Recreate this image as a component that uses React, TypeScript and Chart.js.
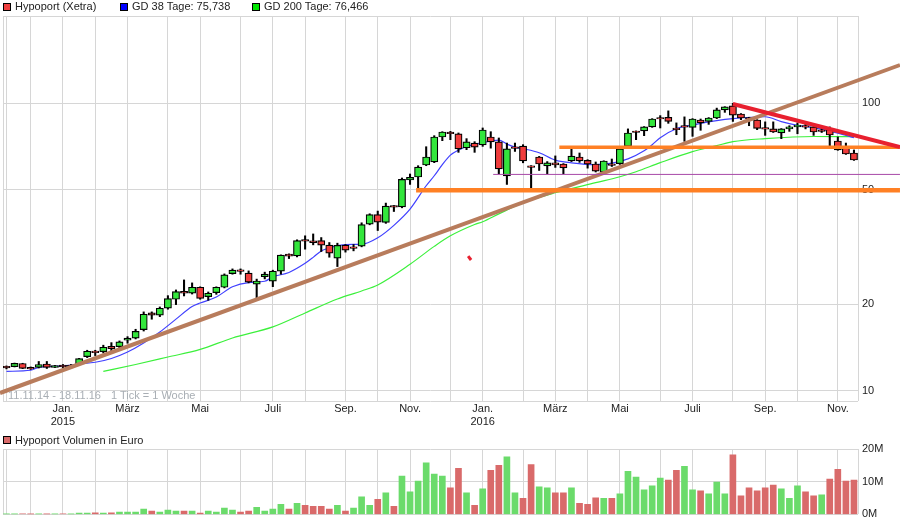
import { useEffect, useRef } from 'react';
import { Chart, registerables } from 'chart.js';

Chart.register(...registerables);

const opens = [
  12.19, 12.14, 12.46, 12.07, 12.07, 12.41, 12.07, 12.29, 12.29, 12.34, 13.16, 13.75, 13.69, 14.3, 14.25, 15.0, 15.25, 16.33,
  18.68, 18.33, 19.38, 20.82, 22.2, 21.85, 22.92, 21.26, 21.95, 22.92, 25.56, 26.35, 25.65, 23.48, 24.96, 24.05, 26.05, 29.86,
  29.45, 33.52, 33.2, 33.3, 32.1, 28.93, 32.1, 31.68, 31.85, 37.97, 41.0, 38.5, 44.0, 43.54, 54.02, 55.33, 60.9, 62.4, 76.2,
  79.2, 78.1, 69.9, 72.6, 71.5, 76.2, 73.3, 55.8, 70.4, 70.9, 60.5, 64.95, 60.5, 62.0, 61.4, 62.9, 64.95, 63.2, 61.4, 57.5,
  61.45, 61.55, 70.7, 79.9, 80.0, 82.6, 89.05, 89.2, 81.8, 83.5, 82.3, 87.3, 86.3, 88.7, 94.6, 97.7, 91.6, 89.05, 87.3, 82.2,
  81.3, 78.7, 81.3, 82.6, 83.5, 82.6, 80.65, 81.0, 73.8, 69.8, 67.05,
];
const highs = [
  12.22, 12.5, 12.48, 12.12, 12.66, 12.66, 12.27, 12.36, 12.36, 12.98, 13.85, 13.85, 14.42, 14.72, 14.92, 15.44, 16.38, 18.82,
  18.82, 19.58, 21.43, 22.43, 24.3, 23.73, 23.0, 22.07, 23.0, 25.5, 26.54, 26.54, 26.12, 24.46, 25.86, 26.27, 29.69, 29.93,
  33.49, 34.58, 35.1, 34.1, 32.77, 32.6, 32.25, 32.25, 38.37, 41.24, 42.14, 44.92, 44.05, 54.9, 56.68, 60.57, 70.5, 77.0, 79.5,
  79.7, 78.7, 75.2, 73.4, 81.9, 79.5, 75.6, 72.6, 72.6, 71.66, 60.6, 65.25, 62.6, 65.5, 61.6, 69.3, 67.05, 63.55, 62.4, 63.0,
  63.9, 69.4, 81.3, 80.0, 82.8, 88.25, 90.4, 93.9, 85.3, 89.5, 88.25, 88.0, 89.0, 96.0, 97.1, 99.7, 91.9, 89.2, 87.55, 86.0,
  86.0, 81.5, 83.4, 85.3, 84.6, 82.8, 81.9, 82.6, 76.2, 72.6, 68.7,
];
const lows = [
  11.93, 12.12, 11.95, 11.88, 12.02, 11.97, 12.06, 12.02, 12.02, 12.32, 13.06, 13.27, 13.55, 13.69, 14.14, 14.65, 15.16, 16.15,
  17.75, 18.12, 19.23, 19.95, 21.38, 21.71, 20.82, 20.65, 21.66, 22.8, 25.44, 25.44, 23.73, 20.82, 24.5, 23.03, 25.44, 28.83,
  29.21, 31.08, 32.17, 30.49, 29.14, 27.04, 30.35, 30.66, 31.66, 37.76, 36.08, 38.2, 42.0, 43.26, 52.15, 50.26, 60.57, 62.05,
  74.0, 74.59, 67.4, 68.85, 67.4, 70.7, 69.7, 56.8, 52.15, 67.9, 62.0, 50.5, 58.3, 56.8, 59.75, 56.8, 62.6, 62.2, 59.4, 57.6,
  57.2, 60.2, 61.2, 70.5, 74.6, 77.0, 82.3, 81.9, 85.0, 77.6, 73.6, 76.6, 80.4, 84.3, 88.25, 92.8, 86.3, 87.55, 83.4, 80.8,
  77.2, 79.0, 75.2, 79.7, 78.2, 81.3, 77.2, 79.0, 71.0, 68.5, 66.3, 63.2,
];
const closes = [
  12.03, 12.48, 11.97, 11.92, 12.36, 12.07, 12.26, 12.13, 12.13, 12.96, 13.74, 13.58, 14.19, 14.03, 14.8, 15.25, 16.12, 18.47,
  18.33, 19.38, 20.92, 22.13, 21.85, 22.92, 20.98, 21.85, 22.92, 25.3, 26.27, 26.0, 23.86, 24.1, 25.44, 26.05, 29.62, 29.38,
  33.3, 33.1, 32.74, 32.1, 30.1, 32.05, 30.84, 31.28, 37.85, 41.0, 38.6, 43.86, 43.45, 54.28, 55.17, 59.94, 64.95, 76.2, 79.32,
  78.2, 69.3, 73.3, 70.3, 80.6, 73.3, 59.0, 69.3, 69.5, 62.9, 59.7, 61.4, 62.0, 60.9, 59.5, 65.45, 62.9, 61.4, 58.0, 62.9,
  60.65, 69.3, 78.7, 79.0, 82.6, 88.0, 88.0, 86.3, 80.75, 82.4, 88.0, 85.3, 88.7, 94.6, 96.9, 90.8, 88.7, 88.0, 81.6, 81.1,
  79.3, 81.3, 82.6, 83.9, 82.4, 79.3, 79.6, 77.4, 68.7, 66.5, 63.4,
];

const gd38Weeks = [
  0, 3, 4, 7, 9, 11, 13, 15, 17, 19, 21, 23, 24, 26, 28, 30, 32, 33, 35, 37, 38, 39, 40, 41, 43, 44, 46, 48, 50, 52, 53, 54, 55,
  56, 57, 59, 61, 62, 63, 64, 66, 68, 70, 73, 75, 77, 79, 80, 81, 83, 85, 88, 90, 94, 96, 98, 100, 103, 105,
];
const gd38Values = [
  11.7, 11.8, 12.08, 12.22, 12.41, 12.58, 12.97, 13.66, 14.68, 16.03, 17.76, 19.65, 20.2, 21.2, 23.0, 23.8, 24.05, 24.9, 25.8,
  27.75, 29.1, 30.65, 31.4, 31.98, 32.3, 32.3, 34.03, 37.6, 42.8, 51.6, 55.9, 61.06, 65.9, 68.6, 70.5, 72.8, 74.3, 72.0, 70.3,
  69.4, 67.2, 63.3, 62.0, 61.06, 61.8, 64.0, 68.3, 71.66, 75.8, 81.4, 83.8, 86.85, 88.25, 89.6, 86.15, 83.6, 82.1, 78.6, 75.74,
];
const gd200Weeks = [12, 16, 20, 24, 28, 33, 37, 41, 44, 46, 50, 53, 55, 58, 59, 61, 64, 68, 73, 76, 78, 81, 85, 88, 90, 94, 100, 105];
const gd200Values = [
  11.7, 12.36, 13.12, 13.94, 15.28, 16.69, 18.66, 20.87, 22.25, 23.35, 27.55, 31.78, 34.57, 37.85, 38.7, 41.2, 45.03, 48.8, 52.9,
  55.46, 57.7, 62.05, 67.75, 71.1, 73.4, 75.2, 76.5, 76.47,
];

const brownLineWeeks = [-0.8, 110.7];
const brownLineValues = [9.84, 135.5];
const redLineWeeks = [90, 110.7];
const redLineValues = [99.2, 70.3];
const upperOrangeWeeks = [68.5, 110.7];
const upperOrangeValues = [70.2, 70.2];
const lowerOrangeWeeks = [50.75, 110.7];
const lowerOrangeValues = [49.8, 49.8];
const purpleLineWeeks = [60.3, 110.7];
const purpleLineValues = [56.5, 56.5];
const redMarkWeeks = [57.2, 57.56];
const redMarkValues = [29.4, 28.5];

const volumes = [
  0.1, 0.1, 0.2, 0.05, 0.1, 0.1, 0.1, 0.15, 0.1, 0.4, 0.4, 0.5, 0.4, 0.5, 0.7, 0.7, 0.7, 1.6, 1.0, 0.7, 1.3, 1.0, 1.0, 1.0, 0.4,
  1.0, 0.7, 1.9, 1.3, 0.7, 1.0, 2.2, 1.0, 1.6, 3.1, 1.6, 3.4, 2.8, 2.5, 2.5, 1.6, 2.8, 1.0, 1.9, 5.4, 2.8, 4.6, 6.6, 2.5, 11.7,
  6.9, 10.2, 15.8, 12.3, 11.7, 8.1, 14.1, 6.6, 2.8, 7.8, 13.5, 15.0, 17.6, 6.6, 4.9, 15.2, 8.4, 8.1, 6.6, 6.6, 8.1, 3.4, 3.1,
  5.1, 4.9, 4.9, 6.3, 13.2, 11.4, 7.5, 8.7, 11.1, 10.5, 13.5, 14.7, 7.5, 7.2, 6.3, 9.9, 6.3, 18.2, 5.7, 8.1, 7.2, 8.1, 9.0, 7.8,
  4.9, 8.7, 6.9, 5.7, 6.0, 10.8, 13.8, 10.2, 10.5,
];
const volumeUp = [
  1, 1, 0, 0, 1, 0, 1, 0, 1, 1, 1, 0, 1, 0, 1, 1, 1, 1, 0, 1, 1, 1, 0, 1, 0, 1, 1, 1, 1, 0, 0, 1, 1, 1, 1, 0, 1, 0, 0, 0, 0, 1,
  0, 1, 1, 1, 0, 1, 0, 1, 1, 1, 1, 1, 1, 0, 0, 1, 0, 1, 0, 0, 1, 1, 0, 0, 1, 1, 0, 0, 1, 0, 0, 0, 1, 0, 1, 1, 1, 1, 1, 1, 0, 0,
  1, 1, 0, 1, 1, 1, 0, 0, 0, 0, 0, 0, 1, 1, 1, 0, 0, 1, 0, 0, 0, 0,
];

const gridWeeks = [0, 3, 7, 11, 15, 20, 24, 29, 33, 37, 42, 46, 50, 55, 59, 64, 68, 72, 76, 81, 85, 90, 94, 98, 103];
const labelWeeks = [7, 15, 24, 33, 42, 50, 59, 68, 76, 85, 94, 103];
const labelTexts = [['Jan.', '2015'], 'März', 'Mai', 'Juli', 'Sep.', 'Nov.', ['Jan.', '2016'], 'März', 'Mai', 'Juli', 'Sep.', 'Nov.'];
const priceTicks = [10, 20, 50, 100];
const volumeTicks = [0, 10, 20];

const X_MIN = -0.43;
const X_MAX = 105.5;
const PRICE_MIN = 9.23;
const PRICE_MAX = 200.5;

const FONT = '"Liberation Sans", Arial, sans-serif';
const GRID = '#d6d6d6';
const TEXT = '#222';

const pairs = (xs: number[], ys: number[]) => xs.map((x, i) => ({ x, y: ys[i] }));

const overlay = (data: { x: number; y: number }[], color: string, width: number, order: number) => ({
  type: 'line' as const,
  data,
  borderColor: color,
  borderWidth: width,
  pointRadius: 0,
  clip: false as const,
  order,
});

const average = (data: { x: number; y: number }[], color: string, order: number) => ({
  type: 'line' as const,
  data,
  borderColor: color,
  borderWidth: 1.2,
  pointRadius: 0,
  cubicInterpolationMode: 'monotone' as const,
  order,
});

function xAxis(height: number, showLabels: boolean) {
  return {
    type: 'linear' as const,
    offset: false,
    min: X_MIN,
    max: X_MAX,
    afterBuildTicks: (scale: any) => {
      scale.ticks = [X_MIN, ...gridWeeks, X_MAX].map((value) => ({ value }));
    },
    afterFit: (scale: any) => {
      scale.height = height;
    },
    grid: { color: GRID, drawTicks: false, offset: false },
    border: { display: false },
    ticks: {
      display: showLabels,
      autoSkip: false,
      maxRotation: 0,
      padding: 2,
      color: TEXT,
      font: { family: FONT, size: 11, lineHeight: 1.15 },
      callback: (value: any) => {
        const at = labelWeeks.indexOf(value);
        return at < 0 ? '' : labelTexts[at];
      },
    },
  };
}

function Swatch({ left, top, color }: { left: number; top: number; color: string }) {
  return (
    <div
      style={{
        position: 'absolute',
        left,
        top,
        width: 6,
        height: 6,
        background: color,
        border: '1px solid #000',
      }}
    />
  );
}

function Label({ left, top, color = TEXT, text }: { left: number; top: number; color?: string; text: string }) {
  return (
    <span
      style={{
        position: 'absolute',
        left,
        top,
        font: `11px/13px ${FONT}`,
        color,
        whiteSpace: 'pre',
      }}
    >
      {text}
    </span>
  );
}

export default function App() {
  const priceRef = useRef<HTMLCanvasElement | null>(null);
  const volumeRef = useRef<HTMLCanvasElement | null>(null);

  useEffect(() => {
    if (!priceRef.current || !volumeRef.current) return;

    const bodies = opens.map((open, i) => ({ x: i, y: [open, closes[i]] }));
    const wicks = highs.map((high, i) => ({ x: i, y: [lows[i], high] }));

    const priceChart = new Chart(priceRef.current, {
      type: 'bar',
      data: {
        datasets: [
          overlay(pairs(redLineWeeks, redLineValues), '#e8202f', 4, 1),
          overlay(pairs(redMarkWeeks, redMarkValues), '#e8202f', 3, 1),
          overlay(pairs(lowerOrangeWeeks, lowerOrangeValues), '#ff8024', 4.4, 2),
          overlay(pairs(upperOrangeWeeks, upperOrangeValues), '#ff8024', 3.4, 2),
          overlay(pairs(purpleLineWeeks, purpleLineValues), '#a848a8', 1, 3),
          overlay(pairs(brownLineWeeks, brownLineValues), '#b87c5c', 4, 4),
          {
            type: 'bar' as const,
            data: bodies,
            backgroundColor: opens.map((open, i) => (closes[i] >= open ? '#33e63c' : '#f03c3c')),
            borderColor: '#000',
            borderWidth: 1.2,
            borderSkipped: false,
            barThickness: 7.2,
            grouped: false,
            order: 5,
          },
          {
            type: 'bar' as const,
            data: wicks,
            backgroundColor: '#000',
            barThickness: 1.4,
            grouped: false,
            order: 6,
          },
          average(pairs(gd38Weeks, gd38Values), '#4040ff', 7),
          average(pairs(gd200Weeks, gd200Values), '#3cf03c', 8),
        ] as any,
      },
      options: {
        responsive: false,
        animation: false,
        layout: { padding: { top: 16, left: 3, right: 0, bottom: 0 } },
        plugins: { legend: { display: false }, tooltip: { enabled: false } },
        scales: {
          x: xAxis(29, true),
          y: {
            type: 'logarithmic',
            position: 'right',
            min: PRICE_MIN,
            max: PRICE_MAX,
            afterBuildTicks: (scale: any) => {
              scale.ticks = [PRICE_MIN, ...priceTicks, PRICE_MAX].map((value) => ({ value }));
            },
            afterFit: (scale: any) => {
              scale.width = 42;
            },
            grid: { color: GRID, drawTicks: false },
            border: { display: false },
            ticks: {
              autoSkip: false,
              padding: 4,
              color: TEXT,
              font: { family: FONT, size: 11 },
              callback: (value: any) => (priceTicks.includes(value) ? String(value) : ''),
            },
          },
        },
      },
    } as any);

    const volumeChart = new Chart(volumeRef.current, {
      type: 'bar',
      data: {
        datasets: [
          {
            data: pairs(
              volumes.map((_, i) => i),
              volumes,
            ),
            backgroundColor: volumeUp.map((up) => (up ? '#6bdb6b' : '#d96a6a')),
            barThickness: 6,
          },
        ],
      },
      options: {
        responsive: false,
        animation: false,
        layout: { padding: { top: 19, left: 3, right: 0, bottom: 0 } },
        plugins: { legend: { display: false }, tooltip: { enabled: false } },
        scales: {
          x: xAxis(9, false),
          y: {
            type: 'linear',
            position: 'right',
            min: 0,
            max: 20,
            afterBuildTicks: (scale: any) => {
              scale.ticks = volumeTicks.map((value) => ({ value }));
            },
            afterFit: (scale: any) => {
              scale.width = 42;
            },
            grid: { color: GRID, drawTicks: false },
            border: { display: false },
            ticks: {
              autoSkip: false,
              padding: 4,
              color: TEXT,
              font: { family: FONT, size: 11 },
              callback: (value: any) => `${value}M`,
            },
          },
        },
      },
    } as any);

    return () => {
      priceChart.destroy();
      volumeChart.destroy();
    };
  }, []);

  return (
    <div style={{ position: 'absolute', left: 0, top: 0, width: 900, height: 525, background: '#fff', overflow: 'hidden' }}>
      <canvas ref={priceRef} width={900} height={430} style={{ position: 'absolute', left: 0, top: 0 }} />
      <canvas ref={volumeRef} width={900} height={95} style={{ position: 'absolute', left: 0, top: 430 }} />
      <Swatch left={3} top={3} color="#f04040" />
      <Label left={15} top={0} text="Hypoport (Xetra)" />
      <Swatch left={120} top={3} color="#0000ff" />
      <Label left={132} top={0} text="GD 38 Tage: 75,738" />
      <Swatch left={252} top={3} color="#00e600" />
      <Label left={264} top={0} text="GD 200 Tage: 76,466" />
      <Label left={8} top={389} color="#a8aeb4" text="11.11.14 - 18.11.16" />
      <Label left={111} top={389} color="#a8aeb4" text="1 Tick = 1 Woche" />
      <Swatch left={3} top={436} color="#d96a6a" />
      <Label left={15} top={434} text="Hypoport Volumen in Euro" />
    </div>
  );
}
